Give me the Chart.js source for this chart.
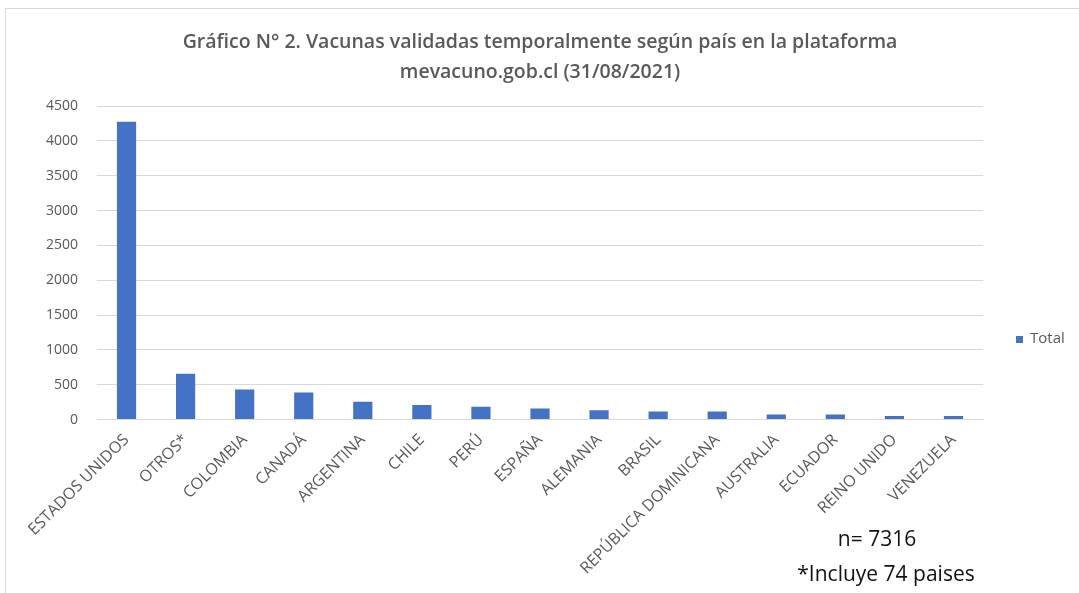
<!DOCTYPE html>
<html>
<head>
<meta charset="utf-8">
<script src="https://cdn.jsdelivr.net/npm/chart.js@4/dist/chart.umd.min.js"></script>
<style>
    html, body { margin: 0; padding: 0; background: #fff; }
    #frame { position: absolute; left: 5px; top: 8px; width: 1074px; height: 585px; border-left: 1px solid #d9d9d9; border-top: 1px solid #d9d9d9; }
    #wrap { position: absolute; left: 0; top: 0; width: 1079px; height: 593px; }
</style>
</head>
<body>
<div id="frame"></div>
<div id="wrap"><canvas id="chart"></canvas></div>
<script>
const countries = ['ESTADOS UNIDOS', 'OTROS*', 'COLOMBIA', 'CANADÁ', 'ARGENTINA', 'CHILE', 'PERÚ', 'ESPAÑA',
    'ALEMANIA', 'BRASIL', 'REPÚBLICA DOMINICANA', 'AUSTRALIA', 'ECUADOR', 'REINO UNIDO', 'VENEZUELA'];
const totals = [4275, 657, 431, 388, 254, 207, 182, 158, 135, 115, 115, 72, 72, 49, 49];
const yTicks = [0, 500, 1000, 1500, 2000, 2500, 3000, 3500, 4000, 4500];
const notes = ['n= 7316', '*Incluye 74 paises'];

const greyText = '#595959';

// legend on the right and notes under the x axis
const extrasPlugin = {
    id: 'extras',
    afterDraw(chart) {
        const ctx = chart.ctx;
        const ds = chart.data.datasets[0];
        ctx.save();
        ctx.fillStyle = ds.backgroundColor;
        ctx.fillRect(1016, 336, 7, 7);
        ctx.fillStyle = greyText;
        ctx.font = '15px "Open Sans", sans-serif';
        ctx.textAlign = 'left';
        ctx.textBaseline = 'middle';
        ctx.fillText(ds.label, 1030, 339);

        ctx.fillStyle = '#111';
        ctx.font = '21px "Open Sans", sans-serif';
        ctx.textAlign = 'center';
        ctx.fillText(notes[0], 877, 540);
        ctx.fillText(notes[1], 886, 575);
        ctx.restore();
    }
};

const ctx = document.getElementById('chart').getContext('2d');
new Chart(ctx, {
    type: 'bar',
    data: {
        labels: countries,
        datasets: [{
            label: 'Total',
            data: totals,
            backgroundColor: '#4472c4',
            borderWidth: 0,
            barPercentage: 0.65,
            categoryPercentage: 0.5
        }]
    },
    options: {
        responsive: true,
        maintainAspectRatio: false,
        animation: false,
        layout: {
            padding: { left: 0, right: 96, top: 27, bottom: 12 }
        },
        plugins: {
            title: {
                display: true,
                fullSize: false,
                text: ['Gráfico N° 2. Vacunas validadas temporalmente según país en la plataforma', 'mevacuno.gob.cl (31/08/2021)'],
                color: greyText,
                font: { family: '"Open Sans", sans-serif', size: 19.5, weight: '600', lineHeight: 1.54 },
                padding: { top: 0, bottom: 19 }
            },
            legend: { display: false },
            tooltip: { enabled: false }
        },
        scales: {
            x: {
                grid: { display: false },
                border: { color: '#d9d9d9' },
                ticks: {
                    color: greyText,
                    font: { family: '"Open Sans", sans-serif', size: 16 },
                    minRotation: 45,
                    maxRotation: 45,
                    autoSkip: false
                }
            },
            y: {
                min: 0,
                max: 4500,
                afterBuildTicks(axis) {
                    axis.ticks = yTicks.map(v => ({ value: v }));
                },
                afterFit(axis) {
                    axis.width = 97;
                },
                grid: { color: '#d9d9d9', drawTicks: false },
                border: { display: false },
                ticks: {
                    color: greyText,
                    font: { family: '"Open Sans", sans-serif', size: 14 },
                    padding: 19,
                    callback: v => String(v)
                }
            }
        }
    },
    plugins: [extrasPlugin]
});
</script>
</body>
</html>
